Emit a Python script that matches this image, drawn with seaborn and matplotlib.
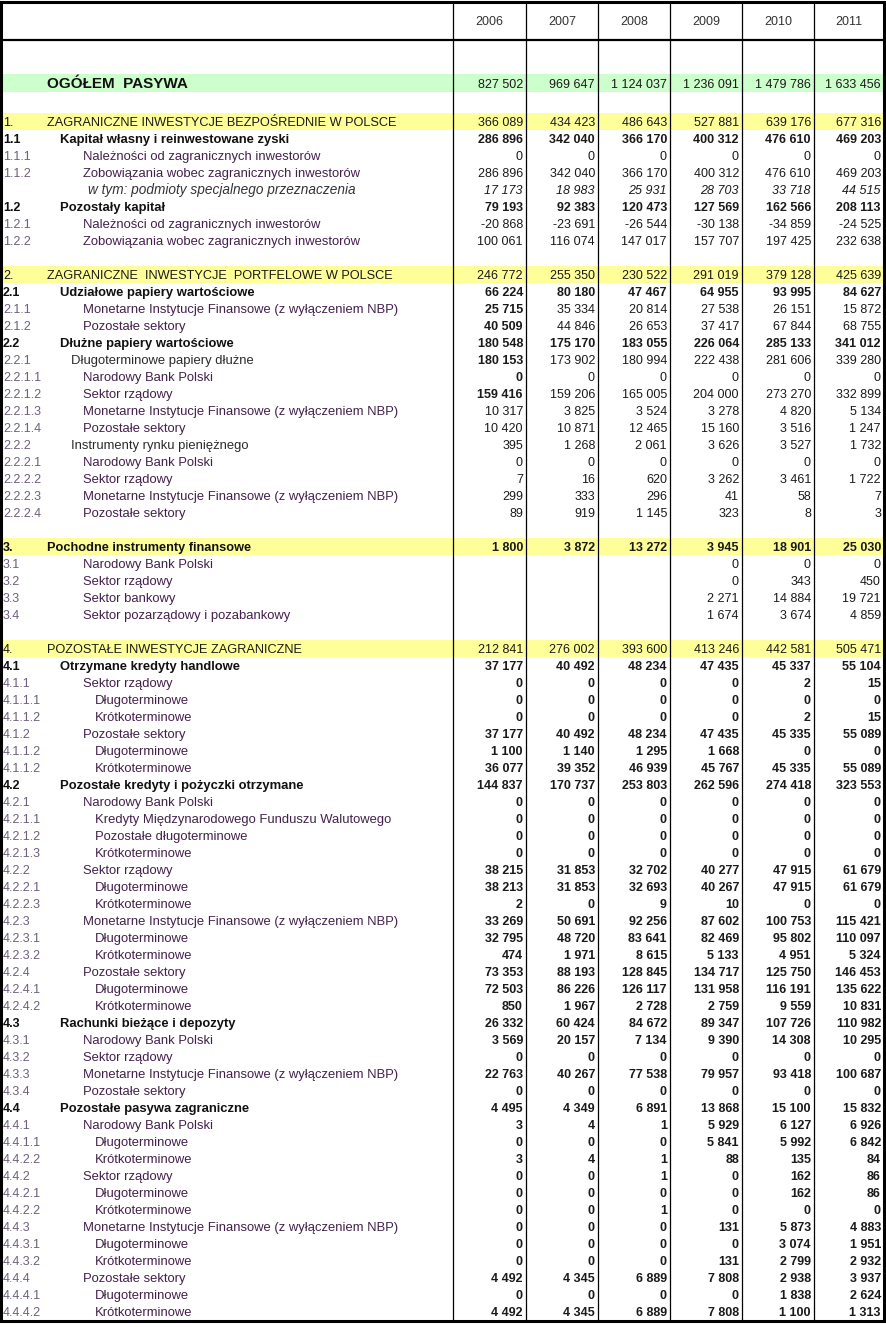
import numpy as np
import pandas as pd
import seaborn as sns
import matplotlib
matplotlib.use("Agg")
import matplotlib.pyplot as plt
from matplotlib import transforms
from matplotlib.colors import ListedColormap

# --- dane ---
years = ["2006", "2007", "2008", "2009", "2010", "2011"]

total_label = "OGÓŁEM  PASYWA"
total_values = [827502, 969647, 1124037, 1236091, 1479786, 1633456]

# sekcja 1
codes_1 = ["1.", "1.1", "1.1.1", "1.1.2", "", "1.2", "1.2.1", "1.2.2"]
labels_1 = [
    "ZAGRANICZNE INWESTYCJE BEZPOŚREDNIE W POLSCE",
    "Kapitał własny i reinwestowane zyski",
    "Należności od zagranicznych inwestorów",
    "Zobowiązania wobec zagranicznych inwestorów",
    "w tym: podmioty specjalnego przeznaczenia",
    "Pozostały kapitał",
    "Należności od zagranicznych inwestorów",
    "Zobowiązania wobec zagranicznych inwestorów",
]
values_1 = [
    [366089, 434423, 486643, 527881, 639176, 677316],
    [286896, 342040, 366170, 400312, 476610, 469203],
    [0, 0, 0, 0, 0, 0],
    [286896, 342040, 366170, 400312, 476610, 469203],
    [17173, 18983, 25931, 28703, 33718, 44515],
    [79193, 92383, 120473, 127569, 162566, 208113],
    [-20868, -23691, -26544, -30138, -34859, -24525],
    [100061, 116074, 147017, 157707, 197425, 232638],
]
kind_1 = ["S", "G", "I", "I", "N", "G", "I", "I"]
numw_1 = ["r", "b", "r", "r", "r", "b", "r", "r"]

# sekcja 2
codes_2 = ["2.", "2.1", "2.1.1", "2.1.2", "2.2", "2.2.1", "2.2.1.1", "2.2.1.2",
           "2.2.1.3", "2.2.1.4", "2.2.2", "2.2.2.1", "2.2.2.2", "2.2.2.3", "2.2.2.4"]
labels_2 = [
    "ZAGRANICZNE  INWESTYCJE  PORTFELOWE W POLSCE",
    "Udziałowe papiery wartościowe",
    "Monetarne Instytucje Finansowe (z wyłączeniem NBP)",
    "Pozostałe sektory",
    "Dłużne papiery wartościowe",
    "Długoterminowe papiery dłużne",
    "Narodowy Bank Polski",
    "Sektor rządowy",
    "Monetarne Instytucje Finansowe (z wyłączeniem NBP)",
    "Pozostałe sektory",
    "Instrumenty rynku pieniężnego",
    "Narodowy Bank Polski",
    "Sektor rządowy",
    "Monetarne Instytucje Finansowe (z wyłączeniem NBP)",
    "Pozostałe sektory",
]
values_2 = [
    [246772, 255350, 230522, 291019, 379128, 425639],
    [66224, 80180, 47467, 64955, 93995, 84627],
    [25715, 35334, 20814, 27538, 26151, 15872],
    [40509, 44846, 26653, 37417, 67844, 68755],
    [180548, 175170, 183055, 226064, 285133, 341012],
    [180153, 173902, 180994, 222438, 281606, 339280],
    [0, 0, 0, 0, 0, 0],
    [159416, 159206, 165005, 204000, 273270, 332899],
    [10317, 3825, 3524, 3278, 4820, 5134],
    [10420, 10871, 12465, 15160, 3516, 1247],
    [395, 1268, 2061, 3626, 3527, 1732],
    [0, 0, 0, 0, 0, 0],
    [7, 16, 620, 3262, 3461, 1722],
    [299, 333, 296, 41, 58, 7],
    [89, 919, 1145, 323, 8, 3],
]
kind_2 = ["S", "G", "I", "I", "G", "M", "I", "I", "I", "I", "M", "I", "I", "I", "I"]
numw_2 = ["r", "b", "f", "f", "b", "f", "f", "f", "r", "r", "r", "r", "r", "r", "r"]

# sekcja 3
codes_3 = ["3.", "3.1", "3.2", "3.3", "3.4"]
labels_3 = [
    "Pochodne instrumenty finansowe",
    "Narodowy Bank Polski",
    "Sektor rządowy",
    "Sektor bankowy",
    "Sektor pozarządowy i pozabankowy",
]
values_3 = [
    [1800, 3872, 13272, 3945, 18901, 25030],
    [None, None, None, 0, 0, 0],
    [None, None, None, 0, 343, 450],
    [None, None, None, 2271, 14884, 19721],
    [None, None, None, 1674, 3674, 4859],
]
kind_3 = ["SB", "I", "I", "I", "I"]
numw_3 = ["b", "r", "r", "r", "r"]

# sekcja 4
codes_4 = ["4.", "4.1", "4.1.1", "4.1.1.1", "4.1.1.2", "4.1.2", "4.1.1.2", "4.1.1.2",
           "4.2", "4.2.1", "4.2.1.1", "4.2.1.2", "4.2.1.3", "4.2.2", "4.2.2.1", "4.2.2.3",
           "4.2.3", "4.2.3.1", "4.2.3.2", "4.2.4", "4.2.4.1", "4.2.4.2",
           "4.3", "4.3.1", "4.3.2", "4.3.3", "4.3.4",
           "4.4", "4.4.1", "4.4.1.1", "4.4.2.2", "4.4.2", "4.4.2.1", "4.4.2.2",
           "4.4.3", "4.4.3.1", "4.4.3.2", "4.4.4", "4.4.4.1", "4.4.4.2"]
labels_4 = [
    "POZOSTAŁE INWESTYCJE ZAGRANICZNE",
    "Otrzymane kredyty handlowe",
    "Sektor rządowy", "Długoterminowe", "Krótkoterminowe",
    "Pozostałe sektory", "Długoterminowe", "Krótkoterminowe",
    "Pozostałe kredyty i pożyczki otrzymane",
    "Narodowy Bank Polski",
    "Kredyty Międzynarodowego Funduszu Walutowego",
    "Pozostałe długoterminowe", "Krótkoterminowe",
    "Sektor rządowy", "Długoterminowe", "Krótkoterminowe",
    "Monetarne Instytucje Finansowe (z wyłączeniem NBP)", "Długoterminowe", "Krótkoterminowe",
    "Pozostałe sektory", "Długoterminowe", "Krótkoterminowe",
    "Rachunki bieżące i depozyty",
    "Narodowy Bank Polski", "Sektor rządowy",
    "Monetarne Instytucje Finansowe (z wyłączeniem NBP)", "Pozostałe sektory",
    "Pozostałe pasywa zagraniczne",
    "Narodowy Bank Polski", "Długoterminowe", "Krótkoterminowe",
    "Sektor rządowy", "Długoterminowe", "Krótkoterminowe",
    "Monetarne Instytucje Finansowe (z wyłączeniem NBP)", "Długoterminowe", "Krótkoterminowe",
    "Pozostałe sektory", "Długoterminowe", "Krótkoterminowe",
]
values_4 = [
    [212841, 276002, 393600, 413246, 442581, 505471],
    [37177, 40492, 48234, 47435, 45337, 55104],
    [0, 0, 0, 0, 2, 15],
    [0, 0, 0, 0, 0, 0],
    [0, 0, 0, 0, 2, 15],
    [37177, 40492, 48234, 47435, 45335, 55089],
    [1100, 1140, 1295, 1668, 0, 0],
    [36077, 39352, 46939, 45767, 45335, 55089],
    [144837, 170737, 253803, 262596, 274418, 323553],
    [0, 0, 0, 0, 0, 0],
    [0, 0, 0, 0, 0, 0],
    [0, 0, 0, 0, 0, 0],
    [0, 0, 0, 0, 0, 0],
    [38215, 31853, 32702, 40277, 47915, 61679],
    [38213, 31853, 32693, 40267, 47915, 61679],
    [2, 0, 9, 10, 0, 0],
    [33269, 50691, 92256, 87602, 100753, 115421],
    [32795, 48720, 83641, 82469, 95802, 110097],
    [474, 1971, 8615, 5133, 4951, 5324],
    [73353, 88193, 128845, 134717, 125750, 146453],
    [72503, 86226, 126117, 131958, 116191, 135622],
    [850, 1967, 2728, 2759, 9559, 10831],
    [26332, 60424, 84672, 89347, 107726, 110982],
    [3569, 20157, 7134, 9390, 14308, 10295],
    [0, 0, 0, 0, 0, 0],
    [22763, 40267, 77538, 79957, 93418, 100687],
    [0, 0, 0, 0, 0, 0],
    [4495, 4349, 6891, 13868, 15100, 15832],
    [3, 4, 1, 5929, 6127, 6926],
    [0, 0, 0, 5841, 5992, 6842],
    [3, 4, 1, 88, 135, 84],
    [0, 0, 1, 0, 162, 86],
    [0, 0, 0, 0, 162, 86],
    [0, 0, 1, 0, 0, 0],
    [0, 0, 0, 131, 5873, 4883],
    [0, 0, 0, 0, 3074, 1951],
    [0, 0, 0, 131, 2799, 2932],
    [4492, 4345, 6889, 7808, 2938, 3937],
    [0, 0, 0, 0, 1838, 2624],
    [4492, 4345, 6889, 7808, 1100, 1313],
]
kind_4 = ["S", "G", "I", "L", "L", "I", "L", "L",
          "G", "I", "L", "L", "L", "I", "L", "L",
          "I", "L", "L", "I", "L", "L",
          "G", "I", "I", "I", "I",
          "G", "I", "L", "L", "I", "L", "L",
          "I", "L", "L", "I", "L", "L"]
numw_4 = ["r"] + ["b"] * 39

# --- sklejanie wierszy (pusty wiersz miedzy sekcjami) ---
blank = dict(code="", label="", vals=[None] * 6, kind="", numw="r")
rows = []
sections = [(codes_1, labels_1, values_1, kind_1, numw_1),
            (codes_2, labels_2, values_2, kind_2, numw_2),
            (codes_3, labels_3, values_3, kind_3, numw_3),
            (codes_4, labels_4, values_4, kind_4, numw_4)]
for s, (c, l, v, k, w) in enumerate(sections):
    if s > 0:
        rows.append(blank)
    for i in range(len(c)):
        rows.append(dict(code=c[i], label=l[i], vals=v[i], kind=k[i], numw=w[i]))
df = pd.DataFrame(rows)
df["band"] = df["kind"].isin(["S", "SB"]).astype(int)

# --- wymiary w pikselach ---
W, H = 886, 1327
right = 884
col_edges = [453, 526, 598, 670, 742, 814, 884]
body_top, body_bot = 113, 1320
head_bot = 40
green_top, green_bot = 74, 92

YELLOW = "#ffff99"
GREEN = "#ccffcc"
plt.rcParams["font.family"] = ["Liberation Sans", "DejaVu Sans"]

fig = plt.figure(figsize=(W / 100, H / 100), dpi=100)
fig.patch.set_facecolor("white")

def px_rect(x0, y0, x1, y1):
    return [x0 / W, 1 - y1 / H, (x1 - x0) / W, (y1 - y0) / H]

# tlo wierszy - heatmapa
axb = fig.add_axes(px_rect(0, body_top, right, body_bot))
sns.heatmap(df[["band"]], ax=axb, cmap=ListedColormap(["white", YELLOW]),
            vmin=0, vmax=1, cbar=False, xticklabels=False, yticklabels=False)
axb.axis("off")

axg = fig.add_axes(px_rect(0, green_top, right, green_bot))
sns.heatmap(pd.DataFrame({"t": [1]}), ax=axg, cmap=ListedColormap([GREEN]),
            cbar=False, xticklabels=False, yticklabels=False)
axg.axis("off")

# nakladka: linie i tekst
ax = fig.add_axes([0, 0, 1, 1], zorder=5)
ax.set_xlim(0, W)
ax.set_ylim(H, 0)
ax.patch.set_alpha(0)
ax.axis("off")

for x in col_edges[:-1]:
    ax.plot([x, x], [2, body_bot], color="black", lw=0.9)
ax.plot([1, right], [head_bot, head_bot], color="black", lw=1.6)
ax.plot([1.5, right, right, 1.5, 1.5], [1.5, 1.5, body_bot + 0.5, body_bot + 0.5, 1.5],
        color="black", lw=2.2, solid_joinstyle="miter")

fs_num = 9.0
fs_lab = 9.4
num_x = [e - 3 for e in col_edges[1:]]
col_mid = [(a + b) / 2 for a, b in zip(col_edges[:-1], col_edges[1:])]

for yr, xm in zip(years, col_mid):
    ax.text(xm, 25, yr, ha="center", va="baseline", fontsize=fs_num, color="#333333")

def fmt(v):
    return "" if v is None else f"{v:,}".replace(",", " ")

yb_g = green_bot - 4
ax.text(47, yb_g, total_label, ha="left", va="baseline", fontsize=11,
        fontweight="bold", color="#111111")
for v, xn in zip(total_values, num_x):
    ax.text(xn, yb_g, fmt(v), ha="right", va="baseline", fontsize=fs_num, color="#1a1a1a")

tr = transforms.blended_transform_factory(ax.transData, axb.transData)
label_x = {"S": 47, "SB": 47, "G": 60, "M": 71, "I": 83, "L": 95, "N": 88}
purple = "#43204c"
grey = "#6e5f7a"

for i, r in df.iterrows():
    y = i + 0.76  # linia bazowa w wierszu
    k = r["kind"]
    if k == "":
        continue
    bold = k in ("G", "SB")
    code_col = "#111111" if k in ("S", "SB", "G") else grey
    lab_col = {"S": "#1a1a1a", "SB": "#111111", "G": "#111111", "M": "#2a2a2a",
               "N": "#333333"}.get(k, purple)
    ax.text(3, y, r["code"], transform=tr, ha="left", va="baseline", fontsize=fs_num,
            color=code_col, fontweight="bold" if bold else "normal")
    lab_fs = {"N": 9.8, "S": 9.2, "SB": 9.2}.get(k, fs_lab)
    ax.text(label_x[k], y, r["label"], transform=tr, ha="left", va="baseline",
            fontsize=lab_fs, color=lab_col,
            fontweight="bold" if bold else "normal",
            fontstyle="italic" if k == "N" else "normal")
    for j, (v, xn) in enumerate(zip(r["vals"], num_x)):
        nb = r["numw"] == "b" or (r["numw"] == "f" and j == 0)
        ax.text(xn, y, fmt(v), transform=tr, ha="right", va="baseline", fontsize=fs_num,
                color="#1a1a1a", fontweight="bold" if nb else "normal",
                fontstyle="italic" if k == "N" else "normal")

fig.savefig("out.png", dpi=100)
